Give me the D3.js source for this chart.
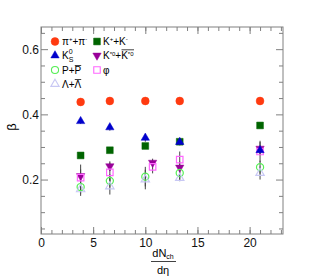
<!DOCTYPE html>
<html>
<head>
<meta charset="utf-8">
<script src="https://cdn.jsdelivr.net/npm/d3@7"></script>
<style>
  body { margin: 0; background: #fff; }
  text { font-family: "Liberation Sans", Arial, sans-serif; }
</style>
</head>
<body>
<svg id="chart" width="315" height="280"></svg>
<script>
// multiplicity bins (dNch/deta), K*0 and phi shifted in the 3rd bin
let xMult = [3.8, 6.6, 10.0, 13.3, 21.0];
let xMultShift = [3.8, 6.6, 10.7, 13.3, 21.0];

// beta values per species
let piVals = [0.438, 0.441, 0.441, 0.441, 0.441];
let piErr = [0.003, 0.003, 0.003, 0.003, 0.003];
let ks0Vals = [0.379, 0.360, 0.328, 0.315, 0.290];
let ks0Err = [0.008, 0.010, 0.012, 0.010, 0.010];
let kchVals = [0.274, 0.290, 0.303, 0.316, 0.366];
let kchErr = [0.008, 0.008, 0.008, 0.008, 0.006];
let kstarVals = [0.211, 0.241, 0.252, 0.237, 0.295];
let kstarErr = [0.020, 0.015, 0.012, 0.018, 0.020];
let phiVals = [0.206, 0.222, 0.239, 0.261, 0.286];
let phiErr = [0.040, 0.030, 0.020, 0.025, 0.033];
let protVals = [0.177, 0.196, 0.209, 0.220, 0.238];
let protErr = [0.020, 0.020, 0.030, 0.020, 0.020];
let lamVals = [0.170, 0.179, 0.200, 0.205, 0.220];
let lamErr = [0.020, 0.025, 0.030, 0.010, 0.020];

// axis ticks
let xMajor = [0, 5, 10, 15, 20];
let xMinor = d3.range(0, 24, 1);
let yMajor = [0.2, 0.4, 0.6];
let yMinor = [0.05, 0.1, 0.15, 0.25, 0.3, 0.35, 0.45, 0.5, 0.55, 0.65];

function drawChart(){
    let svg = d3.select('#chart');

    // frame edges
    let margL = 41;
    let margR = 283;
    let margT = 27;
    let margB = 234;
    let axisCol = '#808080';

    let xScale = d3.scaleLinear().domain([0, 23.2]).range([margL, margR]);
    let yScale = d3.scaleLinear().domain([0.033, 0.668]).range([margB, margT]);

    // species setup: which x, values, errors, symbol, colour, filled
    let species = [
        {name: 'pi', x: xMult, v: piVals, e: piErr, sym: d3.symbolCircle, size: 48, col: '#ff3a10', fill: true},
        {name: 'kch', x: xMult, v: kchVals, e: kchErr, sym: d3.symbolSquare, size: 46, col: '#006400', fill: true},
        {name: 'kstar', x: xMultShift, v: kstarVals, e: kstarErr, sym: d3.symbolTriangle, size: 30, col: '#990099', fill: true, rot: 180},
        {name: 'phi', x: xMultShift, v: phiVals, e: phiErr, sym: d3.symbolSquare, size: 42, col: '#ff66ff', fill: false},
        {name: 'prot', x: xMult, v: protVals, e: protErr, sym: d3.symbolCircle, size: 40, col: '#55ee55', fill: false},
        {name: 'lam', x: xMult, v: lamVals, e: lamErr, sym: d3.symbolTriangle, size: 30, col: '#c8c8f4', fill: false},
        {name: 'ks0', x: xMult, v: ks0Vals, e: ks0Err, sym: d3.symbolTriangle, size: 30, col: '#0000cc', fill: true}
    ];

    // x axis: bottom and top ticks point inward
    svg.append('g')
        .attr('transform', 'translate(0,' + margB + ')')
        .call(d3.axisBottom(xScale).tickValues(xMinor).tickSize(-4).tickSizeOuter(0).tickFormat(''));
    svg.append('g')
        .attr('class', 'xlab')
        .attr('transform', 'translate(0,' + margB + ')')
        .call(d3.axisBottom(xScale).tickValues(xMajor).tickSize(-7).tickSizeOuter(0).tickPadding(4).tickFormat(d3.format('d')));
    svg.append('g')
        .attr('transform', 'translate(0,' + margT + ')')
        .call(d3.axisTop(xScale).tickValues(xMinor).tickSize(-4).tickSizeOuter(0).tickFormat(''));
    svg.append('g')
        .attr('transform', 'translate(0,' + margT + ')')
        .call(d3.axisTop(xScale).tickValues(xMajor).tickSize(-7).tickSizeOuter(0).tickFormat(''));

    // y axis: left with labels, right ticks only
    svg.append('g')
        .attr('transform', 'translate(' + margL + ',0)')
        .call(d3.axisLeft(yScale).tickValues(yMinor).tickSize(-4).tickSizeOuter(0).tickFormat(''));
    svg.append('g')
        .attr('class', 'ylab')
        .attr('transform', 'translate(' + margL + ',0)')
        .call(d3.axisLeft(yScale).tickValues(yMajor).tickSize(-7).tickSizeOuter(0).tickPadding(2).tickFormat(d3.format('.1f')));
    svg.append('g')
        .attr('transform', 'translate(' + margR + ',0)')
        .call(d3.axisRight(yScale).tickValues(yMinor).tickSize(-4).tickSizeOuter(0).tickFormat(''));
    svg.append('g')
        .attr('transform', 'translate(' + margR + ',0)')
        .call(d3.axisRight(yScale).tickValues(yMajor).tickSize(-7).tickSizeOuter(0).tickFormat(''));

    svg.selectAll('.domain').remove();
    svg.selectAll('.tick line').attr('stroke', axisCol);
    svg.selectAll('.tick text')
        .attr('fill', '#111')
        .style('font-size', '12px')
        .style('font-family', '"Liberation Sans", Arial, sans-serif');

    // frame
    svg.append('rect')
        .attr('x', margL).attr('y', margT)
        .attr('width', margR - margL).attr('height', margB - margT)
        .attr('fill', 'none').attr('stroke', axisCol).attr('stroke-width', 1);

    // error bars first
    let errGrp = svg.append('g').attr('class', 'errGrp');
    species.forEach(function(s){
        errGrp.selectAll('.err' + s.name)
            .data(s.v)
            .enter()
            .append('line')
            .attr('x1', (d, i) => xScale(s.x[i]))
            .attr('x2', (d, i) => xScale(s.x[i]))
            .attr('y1', (d, i) => yScale(d - s.e[i]))
            .attr('y2', (d, i) => yScale(d + s.e[i]))
            .attr('stroke', '#444')
            .attr('stroke-width', 1);
    });

    // markers
    let markGrp = svg.append('g').attr('class', 'markGrp');
    species.forEach(function(s){
        markGrp.selectAll('.mk' + s.name)
            .data(s.v)
            .enter()
            .append('path')
            .attr('d', d3.symbol().type(s.sym).size(s.size))
            .attr('transform', function(d, i){
                return 'translate(' + xScale(s.x[i]) + ',' + yScale(d) + ')' + (s.rot ? ' rotate(' + s.rot + ')' : '');
            })
            .attr('fill', s.fill ? s.col : 'none')
            .attr('stroke', s.col)
            .attr('stroke-width', s.fill ? 0.5 : 1.2);
    });

    drawLegend(species);

    // axis titles
    svg.append('text')
        .attr('transform', 'translate(16,127) rotate(-90)')
        .attr('text-anchor', 'middle')
        .style('font-size', '13px')
        .text('β');

    let xt = svg.append('g').attr('transform', 'translate(163,0)');
    let num = xt.append('text')
        .attr('y', 257)
        .attr('text-anchor', 'middle')
        .style('font-size', '11px');
    num.append('tspan').text('dN');
    num.append('tspan').attr('dy', 2).style('font-size', '7px').text('ch');
    xt.append('line')
        .attr('x1', -12).attr('x2', 13)
        .attr('y1', 261.5).attr('y2', 261.5)
        .attr('stroke', '#111').attr('stroke-width', 0.8);
    xt.append('text')
        .attr('y', 274)
        .attr('text-anchor', 'middle')
        .style('font-size', '11px')
        .text('dη');
}

function drawLegend(species){
    let svg = d3.select('#chart');
    let byName = {};
    species.forEach(s => byName[s.name] = s);

    // entries: species, column x, row y
    let entries = [
        {s: 'pi', x: 55, y: 41.5},
        {s: 'ks0', x: 55, y: 55.5},
        {s: 'prot', x: 55, y: 70},
        {s: 'lam', x: 55, y: 84},
        {s: 'kch', x: 97, y: 41.5},
        {s: 'kstar', x: 97, y: 55.5},
        {s: 'phi', x: 97, y: 70}
    ];

    let legGrp = svg.append('g').attr('class', 'legendGrp');
    legGrp.selectAll('path')
        .data(entries)
        .enter()
        .append('path')
        .attr('d', d => d3.symbol().type(byName[d.s].sym).size(byName[d.s].size)())
        .attr('transform', d => 'translate(' + d.x + ',' + d.y + ')' + (byName[d.s].rot ? ' rotate(180)' : ''))
        .attr('fill', d => byName[d.s].fill ? byName[d.s].col : 'none')
        .attr('stroke', d => byName[d.s].col)
        .attr('stroke-width', d => byName[d.s].fill ? 0.5 : 1.1);

    let fs = '10px';
    function label(x, y){
        return legGrp.append('text').attr('x', x).attr('y', y + 3.6).style('font-size', fs);
    }
    function bar(x1, x2, y){
        legGrp.append('line').attr('x1', x1).attr('x2', x2).attr('y1', y).attr('y2', y)
            .attr('stroke', '#111').attr('stroke-width', 0.8);
    }
    let t;
    // pi+ + pi-
    t = label(62, 41.5);
    t.append('tspan').text('π');
    t.append('tspan').attr('dy', -4).style('font-size', '6px').text('+');
    t.append('tspan').attr('dy', 4).text('+π');
    t.append('tspan').attr('dy', -4).style('font-size', '6px').text('-');
    // K0s
    t = label(62, 55.5);
    t.append('tspan').text('K');
    t.append('tspan').attr('dy', 3).style('font-size', '7px').text('S');
    t.append('tspan').attr('dx', -4.5).attr('dy', -8).style('font-size', '7px').text('0');
    // p + pbar
    label(62, 70).text('P+P');
    bar(74.8, 81.2, 65.5);
    // lambda + lambdabar
    label(62, 84).text('Λ+Λ');
    bar(74.8, 81.2, 79.5);
    // K+ + K-
    t = label(103, 41.5);
    t.append('tspan').text('K');
    t.append('tspan').attr('dy', -4).style('font-size', '6px').text('+');
    t.append('tspan').attr('dy', 4).text('+K');
    t.append('tspan').attr('dy', -4).style('font-size', '6px').text('-');
    // K*0 + K*0bar
    t = label(103, 55.5);
    t.append('tspan').text('K');
    t.append('tspan').attr('dy', -3.5).style('font-size', '6px').text('*0');
    t.append('tspan').attr('dy', 3.5).text('+K');
    t.append('tspan').attr('dy', -3.5).style('font-size', '6px').text('*0');
    bar(121.5, 134, 49.8);
    // phi
    label(103, 70).text('φ');
}

drawChart();
</script>
</body>
</html>
